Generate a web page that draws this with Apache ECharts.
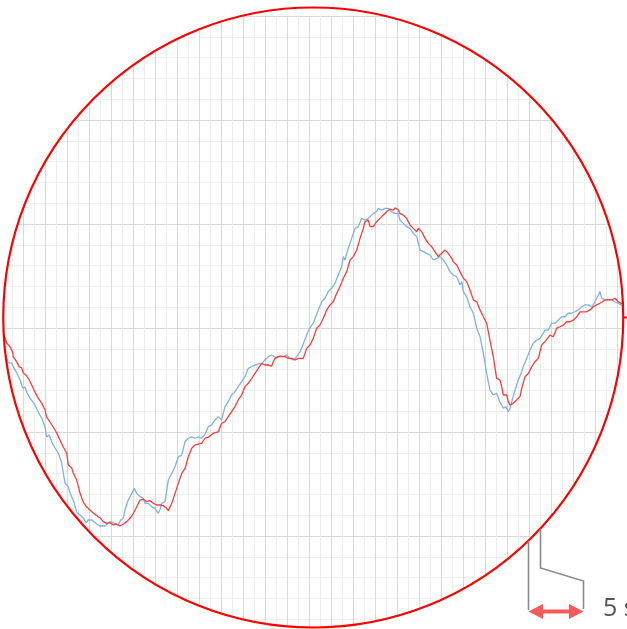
<!DOCTYPE html>
<html>
<head>
<meta charset="utf-8">
<script src="https://cdn.jsdelivr.net/npm/echarts@6/dist/echarts.min.js"></script>
<style>
html,body{margin:0;padding:0;background:#fff;}
#chart{width:627px;height:629px;}
</style>
</head>
<body>
<div id="chart"></div>
<script>
// time axis (s) and amplitude axis ticks
const xTicks = {min: 0, max: 58, major: 2, minorSplits: 2};
const yTicks = {min: 0, max: 30, major: 5, minorSplits: 5};
const scaleBarLabel = '5 s';

// red trace [time s, value]
const redTrace = [
[0,14.86],[0.27,14.66],[0.52,14.28],[0.82,14.09],[1.06,13.85],[1.12,13.61],[1.43,13.37],[1.66,13.13],[1.88,13.08],[2.03,12.84],
[2.27,12.74],[2.57,12.50],[2.79,12.26],[3.09,11.92],[3.39,11.63],[3.70,11.39],[4.00,11.06],[4.15,10.72],[4.45,10.48],[4.75,10.24],
[5.06,9.95],[5.36,9.62],[5.66,9.28],[5.97,8.99],[6.12,8.41],[6.43,8.27],[6.57,8.03],[6.88,7.69],[7.18,7.07],[7.48,6.63],
[7.79,6.39],[8.09,6.25],[8.39,6.11],[9.00,5.87],[9.30,5.69],[9.61,5.61],[9.91,5.64],[10.21,5.53],[10.52,5.58],[10.82,5.48],
[11.12,5.58],[11.43,5.69],[11.73,5.85],[12.03,6.09],[12.34,6.41],[12.64,6.73],[12.94,6.76],[13.25,6.65],[13.55,6.70],[13.85,6.57],
[14.15,6.49],[14.45,6.49],[14.75,6.46],[15.06,6.33],[15.21,6.22],[15.52,6.57],[15.82,7.05],[16.12,7.53],[16.43,8.01],[16.73,8.25],
[17.03,8.81],[17.34,9.22],[17.64,9.38],[17.94,9.42],[18.25,9.46],[18.55,9.70],[18.85,9.75],[19.00,9.77],[19.30,9.94],[19.75,10.01],
[20.06,10.42],[20.36,10.50],[20.66,10.74],[20.97,10.98],[21.27,11.22],[21.57,11.54],[21.88,11.78],[22.18,12.18],[22.48,12.34],[22.79,12.58],
[23.09,12.82],[23.39,13.06],[23.70,13.30],[24.00,13.22],[24.30,13.22],[24.61,13.17],[24.75,13.38],[24.91,13.54],[25.36,13.65],[25.82,13.62],
[26.12,13.54],[26.43,13.54],[26.73,13.46],[27.03,13.54],[27.18,13.51],[27.48,13.54],[27.79,14.02],[28.09,14.18],[28.39,14.50],[28.70,14.99],
[29.00,15.14],[29.30,15.47],[29.61,15.87],[29.91,16.11],[30.21,16.26],[30.52,16.67],[30.82,16.99],[31.12,17.39],[31.43,17.71],[31.73,18.27],
[32.03,18.43],[32.34,18.75],[32.64,19.31],[32.94,19.79],[33.09,20.11],[33.39,20.19],[33.55,19.87],[33.85,19.87],[34.15,20.11],[34.45,20.27],
[34.75,20.43],[35.06,20.59],[35.21,20.51],[35.36,20.72],[35.66,20.67],[35.82,20.78],[36.12,20.67],[36.27,20.51],[36.57,20.43],[36.88,20.27],
[37.18,19.95],[37.48,19.79],[37.79,19.63],[37.94,19.79],[38.25,19.63],[38.55,19.31],[38.85,19.07],[39.15,18.91],[39.30,18.99],[39.45,18.67],
[39.75,18.43],[40.06,18.59],[40.36,18.75],[40.66,18.59],[40.97,18.35],[41.12,18.19],[41.43,18.03],[41.73,17.71],[42.03,17.39],[42.34,17.23],
[42.64,16.83],[42.94,16.35],[43.25,16.26],[43.55,15.87],[43.85,15.54],[44.15,15.23],[44.45,14.42],[44.75,13.62],[45.06,12.58],[45.36,12.50],
[45.52,12.18],[45.66,11.78],[45.82,11.70],[45.97,11.78],[46.12,11.46],[46.27,11.30],[46.57,11.38],[46.88,11.54],[47.18,11.70],[47.34,12.10],
[47.64,12.66],[47.94,12.82],[48.25,13.14],[48.55,13.38],[48.85,13.54],[49.15,14.18],[49.45,14.34],[49.61,14.26],[49.91,14.66],[50.21,14.58],
[50.52,14.99],[50.82,15.06],[51.12,15.14],[51.43,15.30],[51.73,15.30],[52.03,15.38],[52.34,15.54],[52.64,15.78],[52.94,15.78],[53.25,15.78],
[53.55,15.87],[53.85,16.02],[54.15,16.11],[54.45,16.19],[54.61,16.11],[54.91,16.35],[55.21,16.35],[55.52,16.35],[55.82,16.43],[56.12,16.26],
[56.27,16.19],[56.64,16.11]
];

// blue trace [time s, value]
const blueTrace = [
[0,13.85],[0.45,13.61],[0.66,13.32],[0.97,13.32],[1.12,13.13],[1.43,12.84],[1.73,12.50],[1.97,12.12],[2.18,12.16],[2.34,11.92],
[2.64,11.63],[2.79,11.54],[3.09,11.30],[3.39,10.96],[3.70,10.67],[4.00,10.24],[4.15,9.76],[4.39,9.86],[4.61,9.52],[4.91,9.23],
[5.21,8.99],[5.52,8.51],[5.66,8.03],[5.82,7.55],[6.12,7.36],[6.27,7.07],[6.57,6.73],[6.88,6.15],[7.18,6.01],[7.48,5.87],
[7.73,5.63],[7.94,5.77],[8.25,5.77],[8.70,5.58],[9.00,5.48],[9.45,5.48],[9.61,5.48],[9.91,5.69],[10.21,5.63],[10.36,5.72],
[10.66,5.53],[10.88,5.77],[11.12,5.85],[11.27,6.25],[11.57,6.73],[11.88,7.05],[12.12,7.29],[12.34,7.05],[12.64,6.89],[12.94,6.81],
[13.09,6.57],[13.39,6.57],[13.70,6.41],[14.00,6.33],[14.30,6.09],[14.45,6.25],[14.61,6.57],[14.91,6.65],[15.21,7.69],[15.52,8.01],
[15.82,8.33],[16.12,8.81],[16.43,8.89],[16.73,9.53],[17.03,9.70],[17.34,9.77],[17.64,9.70],[17.94,9.77],[18.25,9.70],[18.55,9.90],
[18.85,10.26],[19.15,10.34],[19.45,10.58],[19.75,10.74],[20.06,10.58],[20.36,11.22],[20.66,11.46],[20.97,11.78],[21.27,11.94],[21.57,12.18],
[21.88,12.42],[22.18,12.66],[22.48,13.06],[22.79,13.14],[23.09,13.22],[23.39,13.27],[23.70,13.30],[24.00,13.46],[24.30,13.62],[24.61,13.70],
[24.91,13.59],[25.21,13.62],[25.66,13.62],[25.97,13.70],[26.27,13.54],[26.57,13.46],[26.88,13.62],[27.18,13.85],[27.48,14.23],[27.79,14.66],
[28.09,15.02],[28.39,15.23],[28.55,15.47],[28.85,15.87],[29.15,16.26],[29.45,16.43],[29.75,16.75],[30.06,16.91],[30.36,17.15],[30.66,17.55],
[30.82,17.55],[30.97,17.95],[31.12,18.43],[31.27,18.27],[31.43,18.59],[31.57,18.83],[31.73,18.83],[32.03,19.55],[32.18,19.79],[32.48,19.87],
[32.79,20.27],[33.09,20.19],[33.39,20.27],[33.55,20.27],[33.85,20.51],[34.15,20.59],[34.30,20.75],[34.61,20.67],[34.91,20.75],[35.21,20.75],
[35.52,20.59],[35.82,20.51],[36.12,20.51],[36.27,20.19],[36.57,20.03],[36.88,19.87],[37.18,19.79],[37.48,19.55],[37.79,19.39],[38.09,18.75],
[38.39,18.67],[38.70,18.59],[39.00,18.51],[39.30,18.27],[39.61,18.35],[39.91,18.43],[40.21,18.27],[40.52,18.03],[40.82,17.71],[41.12,17.55],
[41.43,17.47],[41.73,17.07],[41.88,17.23],[42.03,16.75],[42.34,16.50],[42.64,16.02],[42.94,15.71],[43.25,14.99],[43.55,14.58],[43.85,13.78],
[44.15,12.82],[44.45,12.02],[44.75,11.78],[45.06,11.86],[45.36,11.44],[45.66,11.14],[45.91,11.22],[46.12,10.98],[46.27,11.14],[46.43,11.46],
[46.73,12.02],[47.03,12.50],[47.34,12.90],[47.48,13.14],[47.79,13.54],[48.09,13.94],[48.39,14.26],[48.70,14.42],[49.00,14.50],[49.30,14.75],
[49.45,14.90],[49.75,14.90],[50.06,15.23],[50.36,15.23],[50.66,15.38],[50.97,15.54],[51.27,15.54],[51.57,15.71],[51.88,15.71],[52.18,15.78],
[52.48,15.87],[52.79,16.02],[53.09,16.11],[53.39,16.11],[53.70,16.02],[54.00,16.26],[54.30,16.59],[54.45,16.75],[54.61,16.43],[54.91,16.35],
[55.21,16.35],[55.52,16.35],[55.82,16.26],[56.12,16.19],[56.27,16.11],[56.64,16.01]
];

const chart = echarts.init(document.getElementById('chart'), null, {renderer: 'canvas'});

const lens = {cx: 313.25, cy: 317.5, r: 310};

chart.setOption({
  animation: false,
  backgroundColor: '#ffffff',
  grid: {left: 1, top: 16, width: 638, height: 624, containLabel: false, outerBoundsMode: 'none', show: false},
  xAxis: {
    type: 'value', min: xTicks.min, max: xTicks.max, interval: xTicks.major,
    axisLine: {show: false}, axisTick: {show: false}, axisLabel: {show: false},
    splitLine: {show: true, lineStyle: {color: '#d9d9d9', width: 1}},
    minorTick: {show: false, splitNumber: xTicks.minorSplits},
    minorSplitLine: {show: true, lineStyle: {color: '#efefef', width: 1}}
  },
  yAxis: {
    type: 'value', min: yTicks.min, max: yTicks.max, interval: yTicks.major,
    axisLine: {show: false}, axisTick: {show: false}, axisLabel: {show: false},
    splitLine: {show: true, lineStyle: {color: '#d9d9d9', width: 1}},
    minorTick: {show: false, splitNumber: yTicks.minorSplits},
    minorSplitLine: {show: true, lineStyle: {color: '#efefef', width: 1}}
  },
  series: [
    {type: 'line', data: blueTrace, showSymbol: false, smooth: false, clip: false,
     lineStyle: {color: '#80b2e3', width: 1.3}, z: 2},
    {type: 'line', data: redTrace, showSymbol: false, smooth: false, clip: false,
     lineStyle: {color: '#ff3a3a', width: 1.3}, z: 3}
  ],
  graphic: [
    {type: 'ring', z: 100, silent: true,
     shape: {cx: lens.cx, cy: lens.cy, r: 900, r0: lens.r},
     style: {fill: '#ffffff'}},
    {type: 'circle', z: 101, silent: true,
     shape: {cx: lens.cx, cy: lens.cy, r: lens.r},
     style: {fill: null, stroke: '#ff0000', lineWidth: 2.2}},
    {type: 'line', z: 101, silent: true,
     shape: {x1: lens.cx + lens.r, y1: lens.cy, x2: 630, y2: lens.cy},
     style: {stroke: '#ff0000', lineWidth: 2}},
    {type: 'polyline', z: 101, silent: true,
     shape: {points: [[528.5, 541], [528.5, 610]]},
     style: {stroke: '#8a8a8a', lineWidth: 1.6, fill: null}},
    {type: 'polyline', z: 101, silent: true,
     shape: {points: [[540.5, 529], [540.5, 568], [583.5, 581], [583.5, 609]]},
     style: {stroke: '#8a8a8a', lineWidth: 1.6, fill: null}},
    {type: 'rect', z: 102, silent: true,
     shape: {x: 540, y: 609.5, width: 31, height: 4},
     style: {fill: '#f55a5a'}},
    {type: 'polygon', z: 102, silent: true,
     shape: {points: [[528.5, 611.5], [543, 604], [543, 619]]},
     style: {fill: '#f55a5a'}},
    {type: 'polygon', z: 102, silent: true,
     shape: {points: [[583.5, 611.5], [569, 604], [569, 619]]},
     style: {fill: '#f55a5a'}},
    {type: 'text', z: 102, silent: true,
     style: {x: 603, y: 609, text: scaleBarLabel, fill: '#555555',
             font: '25px "Open Sans", sans-serif', textVerticalAlign: 'middle', verticalAlign: 'middle'}}
  ]
});
</script>
</body>
</html>
